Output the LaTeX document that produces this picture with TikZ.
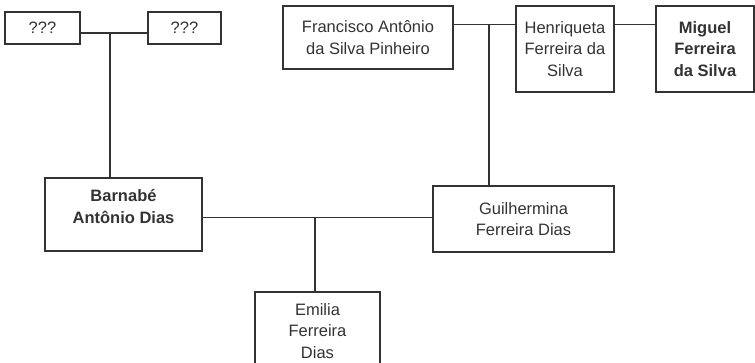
\documentclass[tikz,border=0pt]{standalone}
\usepackage{fontspec}
\setmainfont{Liberation Sans}
\definecolor{ink}{HTML}{333333}
\begin{document}
\begin{tikzpicture}[x=1pt,y=-1pt,
  person/.style={draw=ink, line width=1.4pt, text=ink, align=center, inner sep=0pt,
    font=\fontsize{16.5}{21.7}\selectfont},
  link/.style={draw=ink, line width=1.4pt}]
\useasboundingbox (0,0) rectangle (755,363);
\node[person, minimum width=75, minimum height=32] (q1) at (42.5,28) {???};
\node[person, minimum width=73, minimum height=32] (q2) at (184.5,28) {???};
\node[person, minimum width=157, minimum height=73, font=\fontsize{16.5}{21.7}\selectfont\bfseries] (b) at (123.5,214.5) {Barnabé\\Antônio Dias\\[-5pt]};
\node[person, minimum width=181, minimum height=66] (g) at (523.5,219) {Guilhermina\\Ferreira Dias};
\node[person, minimum width=125, minimum height=78] (e) at (317.5,331) {Emilia\\Ferreira\\Dias};
\node[person, minimum width=170, minimum height=63] (f) at (368,37.5) {Francisco Antônio\\da Silva Pinheiro};
\node[person, minimum width=98, minimum height=86] (h) at (565,49) {Henriqueta\\Ferreira da\\Silva};
\node[person, minimum width=98, minimum height=86, font=\fontsize{16.5}{21.7}\selectfont\bfseries] (m) at (705,49) {Miguel\\Ferreira\\da Silva};
\coordinate (j1) at (110,33);
\coordinate (j2) at (489,24.5);
\coordinate (j3) at (315,217.5);
\draw[link] (q1.east |- j1) -- (q2.west |- j1);
\draw[link] (j1) -- (j1 |- b.north);
\draw[link] (f.east |- j2) -- (h.west |- j2);
\draw[link] (j2) -- (j2 |- g.north);
\draw[link] (h.east |- j2) -- (m.west |- j2);
\draw[link] (b.east |- j3) -- (g.west |- j3);
\draw[link] (j3) -- (j3 |- e.north);
\end{tikzpicture}
\end{document}
